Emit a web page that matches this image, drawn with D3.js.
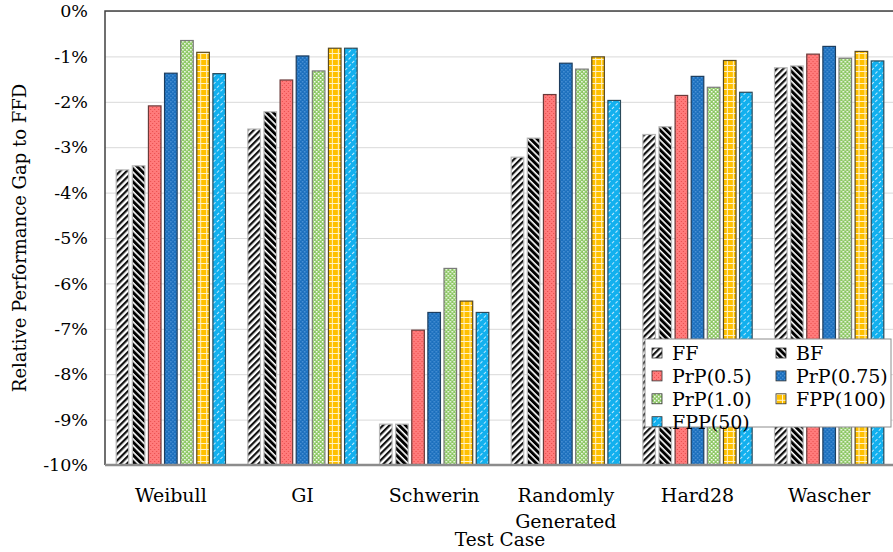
<!DOCTYPE html>
<html>
<head>
<meta charset="utf-8">
<script src="https://cdn.jsdelivr.net/npm/d3@7"></script>
<style>
  html, body { margin: 0; padding: 0; background: #fff; }
  #chart { width: 893px; height: 552px; overflow: hidden; }
</style>
</head>
<body>
<div id="chart"></div>
<script>
// data (values in %)
const categories = ['Weibull', 'GI', 'Schwerin', 'Randomly Generated', 'Hard28', 'Wascher'];
const seriesNames = ['FF', 'BF', 'PrP(0.5)', 'PrP(0.75)', 'PrP(1.0)', 'FPP(100)', 'FPP(50)'];
const ffValues     = [-3.50, -2.60, -9.10, -3.22, -2.72, -1.25];
const bfValues     = [-3.41, -2.22, -9.10, -2.80, -2.55, -1.21];
const prp05Values  = [-2.09, -1.52, -7.03, -1.84, -1.86, -0.95];
const prp075Values = [-1.37, -0.99, -6.64, -1.15, -1.44, -0.78];
const prp10Values  = [-0.65, -1.32, -5.67, -1.28, -1.68, -1.04];
const fpp100Values = [-0.91, -0.82, -6.39, -1.01, -1.09, -0.89];
const fpp50Values  = [-1.38, -0.82, -6.64, -1.97, -1.79, -1.10];
const yTicks = [0, -1, -2, -3, -4, -5, -6, -7, -8, -9, -10];

const seriesValues = [ffValues, bfValues, prp05Values, prp075Values, prp10Values, fpp100Values, fpp50Values];
const data = categories.map((c, i) => ({
  category: c,
  values: seriesNames.map((s, j) => ({ series: s, value: seriesValues[j][i] }))
}));

const serifFont = '"DejaVu Serif", serif';

const margin = { top: 11, right: -2, bottom: 87, left: 105 };
const chartWidth = 893, chartHeight = 552;
const width = chartWidth - margin.left - margin.right;
const height = chartHeight - margin.top - margin.bottom;

const root = d3.select('#chart')
  .append('svg')
  .attr('width', chartWidth)
  .attr('height', chartHeight);

// patterns for the bar fills
const defs = root.append('defs');

function stripePattern(id, bg, fg, angle, size, lineW, dash) {
  const p = defs.append('pattern')
    .attr('id', id)
    .attr('patternUnits', 'userSpaceOnUse')
    .attr('width', size)
    .attr('height', size)
    .attr('patternTransform', `rotate(${angle})`);
  p.append('rect').attr('width', size).attr('height', size).attr('fill', bg);
  const line = p.append('line')
    .attr('x1', lineW / 2).attr('y1', 0)
    .attr('x2', lineW / 2).attr('y2', size)
    .attr('stroke', fg)
    .attr('stroke-width', lineW);
  if (dash) line.attr('stroke-dasharray', dash);
}

stripePattern('pat-ff', '#ffffff', '#111111', 45, 4.6, 2.2);
stripePattern('pat-bf', '#ffffff', '#000000', -45, 4.6, 3);
stripePattern('pat-fpp50', '#12b0ee', '#bfeaff', 45, 5, 1, '3,2');

// small dot / checker patterns
function checkerPattern(id, bg, fg, size, cell) {
  const p = defs.append('pattern')
    .attr('id', id)
    .attr('patternUnits', 'userSpaceOnUse')
    .attr('width', size)
    .attr('height', size);
  p.append('rect').attr('width', size).attr('height', size).attr('fill', bg);
  p.append('rect').attr('x', 0).attr('y', 0).attr('width', cell).attr('height', cell).attr('fill', fg);
  p.append('rect').attr('x', size / 2).attr('y', size / 2).attr('width', cell).attr('height', cell).attr('fill', fg);
}

checkerPattern('pat-prp05', '#ff7b7b', '#e84a4a', 4, 1);
checkerPattern('pat-prp075', '#1c6fbd', '#4b93d6', 4, 1.5);
checkerPattern('pat-prp10', '#8cc763', '#ffffff', 4, 1.5);

const plaid = defs.append('pattern')
  .attr('id', 'pat-fpp100')
  .attr('patternUnits', 'userSpaceOnUse')
  .attr('width', 6)
  .attr('height', 6);
plaid.append('rect').attr('width', 6).attr('height', 6).attr('fill', '#ffc000');
plaid.append('rect').attr('x', 0).attr('y', 0).attr('width', 1).attr('height', 6).attr('fill', '#fff2c8');
plaid.append('rect').attr('x', 0).attr('y', 0).attr('width', 6).attr('height', 1).attr('fill', '#fff2c8');

const fills = {
  'FF': 'url(#pat-ff)',
  'BF': 'url(#pat-bf)',
  'PrP(0.5)': 'url(#pat-prp05)',
  'PrP(0.75)': 'url(#pat-prp075)',
  'PrP(1.0)': 'url(#pat-prp10)',
  'FPP(100)': 'url(#pat-fpp100)',
  'FPP(50)': 'url(#pat-fpp50)'
};
const strokes = {
  'FF': '#b8b8b8', 'BF': '#b8b8b8', 'PrP(0.5)': '#6b3a3a', 'PrP(0.75)': '#1d3d5e',
  'PrP(1.0)': '#7a7a7a', 'FPP(100)': '#5a4a20', 'FPP(50)': '#2a4a5a'
};

const svg = root.append('g')
  .attr('transform', `translate(${margin.left},${margin.top})`);

// scales
const x0 = d3.scaleBand()
  .domain(categories)
  .range([0, width])
  .paddingInner(0.17)
  .paddingOuter(0.085);

const x1 = d3.scaleBand()
  .domain(seriesNames)
  .range([0, x0.bandwidth()])
  .paddingInner(0.22)
  .paddingOuter(0);

const y = d3.scaleLinear()
  .domain([-10, 0])
  .range([height, 0]);

// gridlines
svg.append('g')
  .attr('class', 'grid')
  .call(d3.axisLeft(y)
    .tickValues(yTicks)
    .tickSize(-width)
    .tickFormat(''))
  .call(g => g.select('.domain').remove())
  .selectAll('line')
  .attr('stroke', '#d9d9d9')
  .attr('stroke-width', 1);

// frame (left and top)
svg.append('path')
  .attr('d', `M0,${height}V0H${width}`)
  .attr('fill', 'none')
  .attr('stroke', '#404040')
  .attr('stroke-width', 1.5);

// bars
const groups = svg.selectAll('.group')
  .data(data)
  .enter()
  .append('g')
  .attr('class', 'group')
  .attr('transform', (d) => `translate(${x0(d.category)},0)`);

groups.selectAll('rect')
  .data((d) => d.values)
  .enter()
  .append('rect')
  .attr('x', (d) => x1(d.series))
  .attr('y', (d) => y(d.value))
  .attr('width', x1.bandwidth())
  .attr('height', (d) => y(-10) - y(d.value))
  .attr('fill', (d) => fills[d.series])
  .attr('stroke', (d) => strokes[d.series])
  .attr('stroke-width', 1.2);

// bottom axis line
svg.append('line')
  .attr('x1', 0)
  .attr('x2', width)
  .attr('y1', height)
  .attr('y2', height)
  .attr('stroke', '#8c8c8c')
  .attr('stroke-width', 2.5);

// y axis labels
const yAxis = d3.axisLeft(y)
  .tickValues(yTicks)
  .tickSize(0)
  .tickPadding(17)
  .tickFormat((d) => `${d}%`);

svg.append('g')
  .call(yAxis)
  .call(g => g.select('.domain').remove())
  .selectAll('text')
  .attr('font-family', serifFont)
  .attr('font-size', '17.5px')
  .attr('fill', '#000');

// x axis labels (two lines for "Randomly Generated")
const xAxis = d3.axisBottom(x0).tickSize(0).tickFormat('');
const xAxisG = svg.append('g')
  .attr('transform', `translate(0, ${height})`)
  .call(xAxis);
xAxisG.select('.domain').remove();
xAxisG.selectAll('.tick')
  .append('text')
  .attr('font-family', serifFont)
  .attr('font-size', '19px')
  .attr('fill', '#000')
  .attr('text-anchor', 'middle')
  .selectAll('tspan')
  .data((d) => d.split(' '))
  .enter()
  .append('tspan')
  .attr('x', 0)
  .attr('y', (d, i) => 37 + i * 26)
  .text((d) => d);

// axis titles
svg.append('text')
  .attr('x', width / 2)
  .attr('y', height + 81)
  .attr('text-anchor', 'middle')
  .attr('font-family', serifFont)
  .attr('font-size', '18.5px')
  .attr('fill', '#000')
  .text('Test Case');

svg.append('text')
  .attr('transform', `translate(${-79},${height / 2}) rotate(-90)`)
  .attr('text-anchor', 'middle')
  .attr('font-family', serifFont)
  .attr('font-size', '18px')
  .attr('fill', '#000')
  .text('Relative Performance Gap to FFD');

// legend
const legend = root.append('g')
  .attr('transform', 'translate(645,339)');

legend.append('rect')
  .attr('width', 246)
  .attr('height', 88)
  .attr('fill', '#fff')
  .attr('stroke', '#8c8c8c')
  .attr('stroke-width', 1);

const legendItems = legend.selectAll('.item')
  .data(seriesNames)
  .enter()
  .append('g')
  .attr('class', 'item')
  .attr('transform', (d, i) => `translate(${7 + (i % 2) * 124},${9 + Math.floor(i / 2) * 22.9})`);

legendItems.append('rect')
  .attr('width', 10)
  .attr('height', 10)
  .attr('fill', (d) => fills[d])
  .attr('stroke', '#333')
  .attr('stroke-width', 0.8);

legendItems.append('text')
  .attr('x', 20)
  .attr('y', 5)
  .attr('dy', '0.36em')
  .attr('font-family', serifFont)
  .attr('font-size', '19px')
  .attr('fill', '#000')
  .text((d) => d);
</script>
</body>
</html>
